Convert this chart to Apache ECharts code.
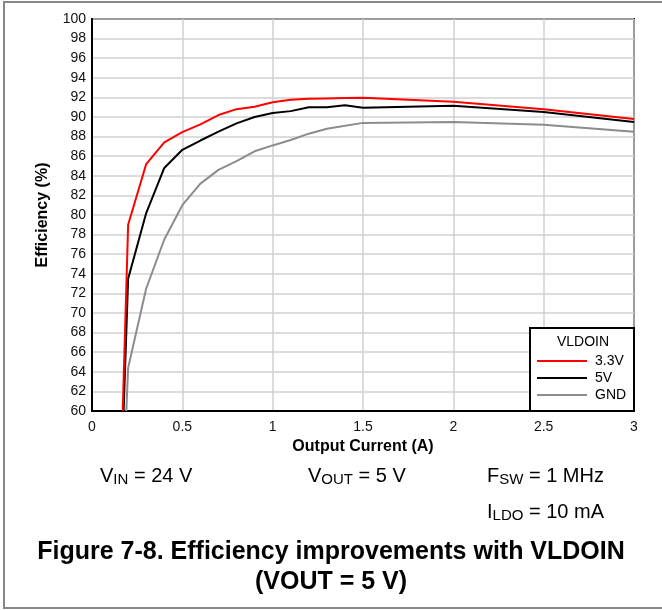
<!DOCTYPE html>
<html>
<head>
<meta charset="utf-8">
<script src="https://cdn.jsdelivr.net/npm/echarts@6/dist/echarts.min.js"></script>
<style>
  html, body { margin: 0; padding: 0; background: #fff; }
  #chart { width: 662px; height: 610px; }
</style>
</head>
<body>
<div id="chart"></div>
<script>
// Efficiency vs. output current for three VLDOIN connections
const currentA = [0.17, 0.2, 0.3, 0.4, 0.5, 0.6, 0.7, 0.8, 0.9, 1.0, 1.1, 1.2, 1.3, 1.4, 1.5, 2.0, 2.5, 3.0];
const eff33V   = [60, 79.0, 85.2, 87.4, 88.45, 89.25, 90.2, 90.8, 91.05, 91.5, 91.75, 91.85, 91.9, 91.95, 91.97, 91.55, 90.8, 89.8];
const currentB = [0.175, 0.2, 0.3, 0.4, 0.5, 0.6, 0.7, 0.8, 0.9, 1.0, 1.1, 1.2, 1.3, 1.4, 1.5, 2.0, 2.5, 3.0];
const eff5V    = [60, 73.5, 80.2, 84.8, 86.65, 87.6, 88.5, 89.35, 90.0, 90.4, 90.6, 91.0, 91.0, 91.2, 90.95, 91.15, 90.5, 89.5];
const currentC = [0.19, 0.2, 0.3, 0.4, 0.5, 0.6, 0.7, 0.8, 0.9, 1.0, 1.1, 1.2, 1.3, 1.5, 2.0, 2.5, 3.0];
const effGND   = [60, 64.4, 72.5, 77.5, 81.0, 83.2, 84.6, 85.5, 86.5, 87.1, 87.65, 88.3, 88.8, 89.4, 89.5, 89.2, 88.5];

const seriesNames = ['3.3V', '5V', 'GND'];
const seriesColors = ['#ff0000', '#000000', '#8c8c8c'];
const xTicks = { min: 0, max: 3, step: 0.5 };
const yTicks = { min: 60, max: 100, step: 2 };

const pairs = (xs, ys) => xs.map((x, i) => [x, ys[i]]);
const seriesData = [pairs(currentA, eff33V), pairs(currentB, eff5V), pairs(currentC, effGND)];

const FONT = '"Liberation Sans", Arial, sans-serif';
const chart = echarts.init(document.getElementById('chart'), null, { renderer: 'canvas' });

// main text plus lowered subscript
const subRich = (size) => ({
  a: { fontSize: size, fontFamily: FONT, color: '#000' },
  s: { fontSize: Math.round(size * 0.75), fontFamily: FONT, color: '#000', padding: [8, 0, 0, 0] }
});

chart.setOption({
  backgroundColor: '#fff',
  animation: false,
  grid: {
    left: 92, right: 28, top: 19, bottom: 199,
    show: true, borderColor: '#000', borderWidth: 2, backgroundColor: 'transparent'
  },
  xAxis: {
    type: 'value', min: xTicks.min, max: xTicks.max, interval: xTicks.step,
    name: 'Output Current (A)', nameLocation: 'middle', nameGap: 25,
    nameTextStyle: { fontFamily: FONT, fontWeight: 'bold', fontSize: 16, color: '#000' },
    axisLine: { show: true, lineStyle: { color: '#000', width: 2 } },
    axisTick: { show: false },
    axisLabel: { fontFamily: FONT, fontSize: 14, color: '#111', margin: 9 },
    splitLine: { show: true, lineStyle: { color: '#d0d0d0', width: 1.5 } }
  },
  yAxis: {
    type: 'value', min: yTicks.min, max: yTicks.max, interval: yTicks.step,
    name: 'Efficiency (%)', nameLocation: 'middle', nameGap: 41, nameRotate: 90,
    nameTextStyle: { fontFamily: FONT, fontWeight: 'bold', fontSize: 16, color: '#000' },
    axisLine: { show: true, lineStyle: { color: '#000', width: 2 } },
    axisTick: { show: false },
    axisLabel: { fontFamily: FONT, fontSize: 14, color: '#111', margin: 6 },
    splitLine: { show: true, lineStyle: { color: '#d0d0d0', width: 1.5 } }
  },
  legend: {
    left: 537, top: 354, orient: 'vertical', z: 20, padding: 0,
    itemWidth: 50, itemHeight: 2, itemGap: 3,
    icon: 'rect',
    textStyle: { fontFamily: FONT, fontSize: 14, color: '#000', padding: [0, 0, 0, 3] },
    data: seriesNames
  },
  series: seriesNames.map((name, i) => ({
    name, type: 'line', data: seriesData[i], showSymbol: false, symbol: 'none',
    lineStyle: { color: seriesColors[i], width: 2 }, itemStyle: { color: seriesColors[i] },
    z: 3 - i
  })),
  graphic: [
    // outer frame
    { type: 'rect', shape: { x: 4, y: 2, width: 680, height: 606 }, style: { fill: 'none', stroke: '#888', lineWidth: 2 }, z: 1 },
    // legend box
    { type: 'rect', shape: { x: 530, y: 328, width: 104, height: 83 }, style: { fill: '#fff', stroke: '#000', lineWidth: 2 }, z: 10 },
    { type: 'text', left: 557, top: 335, z: 11,
      style: { text: 'VLDOIN', font: '14px ' + FONT, fill: '#000' } },
    // operating conditions
    { type: 'text', left: 100, top: 466, z: 11,
      style: { text: '{a|V}{s|IN}{a| = 24 V}', rich: subRich(20) } },
    { type: 'text', left: 308, top: 466, z: 11,
      style: { text: '{a|V}{s|OUT}{a| = 5 V}', rich: subRich(20) } },
    { type: 'text', left: 487, top: 466, z: 11,
      style: { text: '{a|F}{s|SW}{a| = 1 MHz}', rich: subRich(20) } },
    { type: 'text', left: 487, top: 502, z: 11,
      style: { text: '{a|I}{s|LDO}{a| = 10 mA}', rich: subRich(20) } },
    // figure caption
    { type: 'text', left: 'center', top: 540, z: 11,
      style: { text: 'Figure 7-8. Efficiency improvements with VLDOIN', font: 'bold 25px ' + FONT, fill: '#000' } },
    { type: 'text', left: 'center', top: 570, z: 11,
      style: { text: '(VOUT = 5 V)', font: 'bold 25px ' + FONT, fill: '#000' } }
  ]
});
</script>
</body>
</html>
